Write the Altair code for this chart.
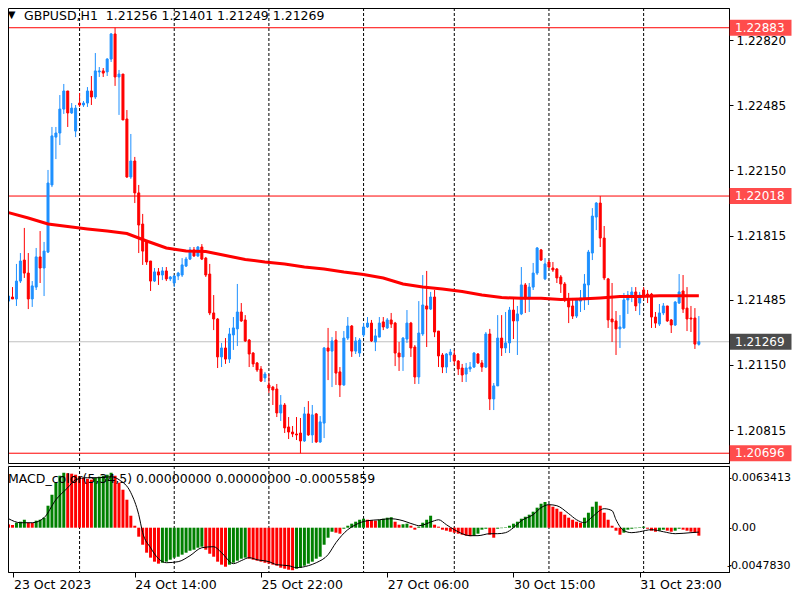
import altair as alt
import pandas as pd

# ---------------- data (GBPUSD H1) ----------------
OPEN = [
    1.21478, 1.21499, 1.21489, 1.21581, 1.21689, 1.21622, 1.21489, 1.21550, 1.21705, 1.21648,
    1.21730, 1.22075, 1.22321, 1.22342, 1.22465, 1.22558, 1.22445, 1.22352, 1.22496, 1.22486,
    1.22496, 1.22558, 1.22527, 1.22656, 1.22661, 1.22656, 1.22722, 1.22851, 1.22630, 1.22645,
    1.22414, 1.22116, 1.22198, 1.22034, 1.21874, 1.21787, 1.21684, 1.21581, 1.21628, 1.21612,
    1.21633, 1.21592, 1.21571, 1.21607, 1.21612, 1.21658, 1.21694, 1.21741, 1.21710, 1.21756,
    1.21699, 1.21617, 1.21417, 1.21386, 1.21191, 1.21237, 1.21180, 1.21304, 1.21335, 1.21422,
    1.21381, 1.21278, 1.21211, 1.21160, 1.21129, 1.21083, 1.21047, 1.21036, 1.21026, 1.20903,
    1.20944, 1.20831, 1.20805, 1.20795, 1.20800, 1.20759, 1.20898, 1.20790, 1.20898, 1.20754,
    1.20851, 1.21237, 1.21221, 1.21278, 1.21114, 1.21047, 1.21288, 1.21350, 1.21221, 1.21211,
    1.21304, 1.21345, 1.21365, 1.21268, 1.21293, 1.21371, 1.21340, 1.21381, 1.21365, 1.21211,
    1.21191, 1.21283, 1.21365, 1.21242, 1.21088, 1.21309, 1.21453, 1.21437, 1.21499, 1.21324,
    1.21201, 1.21139, 1.21201, 1.21201, 1.21170, 1.21134, 1.21103, 1.21129, 1.21139, 1.21206,
    1.21160, 1.21139, 1.21309, 1.20975, 1.21042, 1.21288, 1.21237, 1.21263, 1.21432, 1.21376,
    1.21412, 1.21561, 1.21489, 1.21550, 1.21622, 1.21741, 1.21592, 1.21679, 1.21648, 1.21643,
    1.21602, 1.21566, 1.21484, 1.21453, 1.21401, 1.21478, 1.21489, 1.21561, 1.21725, 1.21910,
    1.21982, 1.21802, 1.21592, 1.21386, 1.21376, 1.21335, 1.21340, 1.21484, 1.21504, 1.21525,
    1.21468, 1.21535, 1.21514, 1.21514, 1.21396, 1.21360, 1.21417, 1.21453, 1.21381, 1.21355,
    1.21468, 1.21530, 1.21442, 1.21391, 1.21391, 1.21256,
]
HIGH = [
    1.21504, 1.21550, 1.21669, 1.21725, 1.21854, 1.21725, 1.21581, 1.21751, 1.21838, 1.21782,
    1.22152, 1.22373, 1.22373, 1.22537, 1.22594, 1.22558, 1.22496, 1.22486, 1.22548, 1.22506,
    1.22578, 1.22635, 1.22753, 1.22681, 1.22676, 1.22727, 1.22856, 1.22883, 1.22666, 1.22645,
    1.22460, 1.22337, 1.22219, 1.22075, 1.21926, 1.21792, 1.21684, 1.21648, 1.21648, 1.21653,
    1.21653, 1.21607, 1.21612, 1.21628, 1.21699, 1.21705, 1.21756, 1.21756, 1.21761, 1.21771,
    1.21705, 1.21669, 1.21509, 1.21391, 1.21263, 1.21288, 1.21340, 1.21396, 1.21566, 1.21468,
    1.21406, 1.21283, 1.21216, 1.21165, 1.21144, 1.21114, 1.21103, 1.21042, 1.21052, 1.20995,
    1.20954, 1.20882, 1.20836, 1.20882, 1.20877, 1.20934, 1.20964, 1.20944, 1.20903, 1.20887,
    1.21242, 1.21340, 1.21293, 1.21324, 1.21139, 1.21324, 1.21396, 1.21355, 1.21293, 1.21288,
    1.21365, 1.21396, 1.21381, 1.21335, 1.21396, 1.21396, 1.21391, 1.21417, 1.21371, 1.21268,
    1.21293, 1.21432, 1.21371, 1.21252, 1.21478, 1.21612, 1.21633, 1.21525, 1.21535, 1.21324,
    1.21211, 1.21211, 1.21232, 1.21227, 1.21175, 1.21155, 1.21160, 1.21165, 1.21216, 1.21211,
    1.21175, 1.21319, 1.21335, 1.21057, 1.21406, 1.21406, 1.21422, 1.21448, 1.21494, 1.21453,
    1.21653, 1.21571, 1.21571, 1.21674, 1.21756, 1.21746, 1.21699, 1.21689, 1.21679, 1.21648,
    1.21612, 1.21576, 1.21520, 1.21494, 1.21494, 1.21535, 1.21617, 1.21741, 1.21956, 1.21987,
    1.22018, 1.21864, 1.21597, 1.21571, 1.21427, 1.21406, 1.21520, 1.21530, 1.21550, 1.21550,
    1.21525, 1.21550, 1.21535, 1.21520, 1.21422, 1.21463, 1.21468, 1.21453, 1.21386, 1.21478,
    1.21617, 1.21612, 1.21550, 1.21453, 1.21442, 1.21401,
]
LOW = [
    1.21442, 1.21489, 1.21453, 1.21571, 1.21597, 1.21437, 1.21448, 1.21535, 1.21571, 1.21504,
    1.21725, 1.22064, 1.22208, 1.22280, 1.22440, 1.22373, 1.22440, 1.22321, 1.22476, 1.22476,
    1.22476, 1.22486, 1.22517, 1.22630, 1.22630, 1.22635, 1.22707, 1.22584, 1.22435, 1.22409,
    1.22111, 1.22106, 1.21982, 1.21725, 1.21664, 1.21664, 1.21530, 1.21576, 1.21561, 1.21586,
    1.21581, 1.21581, 1.21550, 1.21586, 1.21602, 1.21653, 1.21689, 1.21705, 1.21705, 1.21689,
    1.21602, 1.21406, 1.21329, 1.21134, 1.21139, 1.21155, 1.21160, 1.21227, 1.21247, 1.21371,
    1.21268, 1.21139, 1.21139, 1.21114, 1.21062, 1.21062, 1.21006, 1.20944, 1.20882, 1.20862,
    1.20800, 1.20769, 1.20779, 1.20764, 1.20696, 1.20754, 1.20785, 1.20749, 1.20749, 1.20749,
    1.20774, 1.21072, 1.21036, 1.21047, 1.20985, 1.21042, 1.21278, 1.21191, 1.21206, 1.21191,
    1.21293, 1.21340, 1.21268, 1.21221, 1.21293, 1.21329, 1.21335, 1.21340, 1.21144, 1.21119,
    1.21119, 1.21263, 1.21191, 1.21052, 1.21052, 1.21299, 1.21242, 1.21432, 1.21293, 1.21139,
    1.21108, 1.21108, 1.21165, 1.21149, 1.21098, 1.21062, 1.21062, 1.21114, 1.21134, 1.21155,
    1.21114, 1.21134, 1.20918, 1.20918, 1.21042, 1.21196, 1.21211, 1.21211, 1.21283, 1.21201,
    1.21406, 1.21417, 1.21422, 1.21535, 1.21612, 1.21684, 1.21586, 1.21648, 1.21628, 1.21571,
    1.21520, 1.21473, 1.21365, 1.21386, 1.21391, 1.21422, 1.21432, 1.21458, 1.21689, 1.21843,
    1.21756, 1.21586, 1.21340, 1.21268, 1.21201, 1.21237, 1.21335, 1.21412, 1.21473, 1.21427,
    1.21406, 1.21484, 1.21468, 1.21340, 1.21340, 1.21350, 1.21406, 1.21371, 1.21314, 1.21350,
    1.21463, 1.21417, 1.21324, 1.21319, 1.21232, 1.21249,
]
CLOSE = [
    1.21504, 1.21489, 1.21581, 1.21684, 1.21622, 1.21489, 1.21556, 1.21705, 1.21648, 1.21735,
    1.22085, 1.22327, 1.22342, 1.22465, 1.22558, 1.22445, 1.22470, 1.22470, 1.22486, 1.22496,
    1.22558, 1.22527, 1.22661, 1.22661, 1.22650, 1.22722, 1.22851, 1.22630, 1.22645, 1.22409,
    1.22116, 1.22198, 1.22034, 1.21869, 1.21735, 1.21679, 1.21581, 1.21628, 1.21612, 1.21633,
    1.21592, 1.21602, 1.21607, 1.21622, 1.21664, 1.21694, 1.21741, 1.21710, 1.21756, 1.21694,
    1.21612, 1.21417, 1.21386, 1.21191, 1.21237, 1.21180, 1.21309, 1.21340, 1.21422, 1.21376,
    1.21273, 1.21206, 1.21155, 1.21124, 1.21067, 1.21103, 1.21031, 1.21021, 1.20903, 1.20944,
    1.20826, 1.20805, 1.20795, 1.20790, 1.20759, 1.20898, 1.20790, 1.20893, 1.20754, 1.20857,
    1.21237, 1.21221, 1.21273, 1.21108, 1.21047, 1.21288, 1.21350, 1.21221, 1.21273, 1.21278,
    1.21345, 1.21365, 1.21273, 1.21299, 1.21365, 1.21345, 1.21381, 1.21360, 1.21211, 1.21191,
    1.21288, 1.21365, 1.21237, 1.21088, 1.21314, 1.21458, 1.21437, 1.21499, 1.21319, 1.21196,
    1.21139, 1.21206, 1.21216, 1.21170, 1.21129, 1.21098, 1.21134, 1.21139, 1.21211, 1.21160,
    1.21139, 1.21309, 1.20975, 1.21042, 1.21288, 1.21237, 1.21263, 1.21432, 1.21376, 1.21412,
    1.21561, 1.21489, 1.21550, 1.21622, 1.21751, 1.21689, 1.21669, 1.21653, 1.21638, 1.21597,
    1.21566, 1.21484, 1.21448, 1.21401, 1.21484, 1.21494, 1.21566, 1.21730, 1.21915, 1.21982,
    1.21802, 1.21597, 1.21381, 1.21371, 1.21335, 1.21345, 1.21484, 1.21509, 1.21525, 1.21453,
    1.21509, 1.21509, 1.21509, 1.21396, 1.21365, 1.21417, 1.21453, 1.21376, 1.21355, 1.21473,
    1.21525, 1.21437, 1.21386, 1.21386, 1.21257, 1.21269,
]

# moving average (red line), read every 5 bars
MA_BARS = [0, 5, 10, 15, 20, 25, 30, 35, 40, 45, 50, 55, 60, 65, 70, 75, 80, 85,
           90, 95, 100, 105, 110, 115, 120, 125, 130, 135, 140, 145, 150, 155, 160, 165, 170, 175]
MA_VALUES = [1.21933, 1.21905, 1.21874, 1.21861, 1.21849, 1.21838, 1.21825, 1.21787, 1.21751,
             1.21735, 1.21733, 1.21712, 1.21692, 1.21679, 1.21669, 1.21653, 1.21643, 1.21627,
             1.21615, 1.21597, 1.21566, 1.21550, 1.21540, 1.21527, 1.21509, 1.21496, 1.21492,
             1.21492, 1.21486, 1.21489, 1.21494, 1.21501, 1.21502, 1.21506, 1.21506, 1.21506]

# MACD_color(5,34,5) histogram, one value per bar
MACD_HIST = [
    0.00042, 0.00034, 0.00063, 0.00076, 0.00101, 0.00063, 0.00060, 0.00089, 0.00101, 0.00127,
    0.00279, 0.00418, 0.00571, 0.00659, 0.00697, 0.00690, 0.00685, 0.00672, 0.00647, 0.00634,
    0.00621, 0.00609, 0.00634, 0.00647, 0.00659, 0.00672, 0.00697, 0.00659, 0.00571, 0.00482,
    0.00355, 0.00152, 0.00025, -0.00114, -0.00216, -0.00317, -0.00380, -0.00431, -0.00456, -0.00444,
    -0.00431, -0.00406, -0.00380, -0.00368, -0.00342, -0.00317, -0.00292, -0.00279, -0.00254, -0.00241,
    -0.00279, -0.00330, -0.00368, -0.00431, -0.00469, -0.00495, -0.00469, -0.00444, -0.00418, -0.00393,
    -0.00380, -0.00393, -0.00406, -0.00418, -0.00431, -0.00444, -0.00456, -0.00469, -0.00482, -0.00507,
    -0.00520, -0.00533, -0.00539, -0.00520, -0.00507, -0.00482, -0.00456, -0.00431, -0.00393, -0.00368,
    -0.00216, -0.00127, -0.00051, -0.00063, -0.00076, -0.00013, 0.00025, 0.00051, 0.00076, 0.00101,
    0.00114, 0.00101, 0.00095, 0.00089, 0.00101, 0.00114, 0.00127, 0.00133, 0.00076, 0.00038,
    0.00044, 0.00051, 0.00025, -0.00025, 0.00013, 0.00063, 0.00101, 0.00152, 0.00038, 0.00013,
    -0.00025, -0.00038, -0.00051, -0.00063, -0.00076, -0.00089, -0.00101, -0.00108, -0.00101, -0.00076,
    -0.00025, -0.00013, -0.00089, -0.00127, -0.00013, -0.00006, 0.00006, 0.00025, 0.00051, 0.00076,
    0.00114, 0.00139, 0.00165, 0.00203, 0.00254, 0.00304, 0.00326, 0.00292, 0.00266, 0.00241,
    0.00203, 0.00165, 0.00127, 0.00101, 0.00076, 0.00063, 0.00127, 0.00190, 0.00266, 0.00330,
    0.00279, 0.00190, 0.00101, 0.00025, -0.00038, -0.00089, -0.00063, -0.00025, -0.00013, -0.00006,
    0.00006, 0.00013, -0.00013, -0.00038, -0.00051, -0.00038, -0.00025, -0.00038, -0.00051, -0.00038,
    -0.00013, -0.00025, -0.00038, -0.00051, -0.00063, -0.00101,
]

# MACD signal line (black), read at these bars
SIGNAL_BARS = [0, 3, 6, 9, 12, 15, 17, 20, 23, 26, 28, 31, 33, 34, 36, 38, 40, 43, 46, 49,
               52, 54, 57, 59, 61, 63, 66, 68, 71, 73, 76, 78, 81, 83, 86, 88, 91, 94, 97, 99,
               103, 104, 108, 109, 111, 113, 117, 119, 122, 124, 126, 128, 130, 133, 135, 137,
               139, 142, 144, 146, 148, 151, 153, 154, 156, 158, 160, 163, 166, 169, 173, 175]
SIGNAL_VALUES = [0.00114, 0.00063, 0.00063, 0.00127, 0.00355, 0.00507, 0.00609, 0.00634, 0.00634,
                 0.00647, 0.00609, 0.00444, 0.00165, -0.00063, -0.00254, -0.00393, -0.00444,
                 -0.00431, -0.00355, -0.00254, -0.00241, -0.00317, -0.00456, -0.00418, -0.00380,
                 -0.00406, -0.00431, -0.00469, -0.00482, -0.00507, -0.00482, -0.00444, -0.00342,
                 -0.00190, -0.00025, 0.00038, 0.00089, 0.00101, 0.00114, 0.00101, 0.00038, 0.00025,
                 0.00089, 0.00101, 0.00038, -0.00025, -0.00101, -0.00101, -0.00076, -0.00076,
                 -0.00063, 0.00000, 0.00089, 0.00165, 0.00254, 0.00292, 0.00279, 0.00178, 0.00101,
                 0.00063, 0.00139, 0.00241, 0.00216, 0.00101, -0.00038, -0.00063, -0.00051,
                 -0.00025, -0.00051, -0.00076, -0.00063, -0.00055859]

DAY_START_BARS = [18, 42, 66, 90, 113, 137, 161]
TIME_TICK_BARS = [0, 32, 64, 96, 128, 160]
TIME_TICK_LABELS = ["23 Oct 2023", "24 Oct 14:00", "25 Oct 22:00",
                    "27 Oct 06:00", "30 Oct 15:00", "31 Oct 23:00"]
PRICE_TICKS = [1.22820, 1.22485, 1.22150, 1.21815, 1.21485, 1.21150, 1.20815]
LEVEL_PRICES = [1.22883, 1.22018, 1.20696]
LAST_PRICE = 1.21269
MACD_TICKS = [0.0063413, 0.0, -0.0047830]
MACD_TICK_LABELS = ["0.0063413", "0.00", "-0.0047830"]
HEADER = "GBPUSD,H1\u00a0 1.21256 1.21401 1.21249 1.21269"
MACD_TITLE = "MACD_color(5,34,5) 0.00000000 0.00000000 -0.00055859"

# ---------------- layout ----------------
FONT = "DejaVu Sans"
W, H = 721, 564              # plot area (both panels); the page adds an 8px margin
TOTAL_W, TOTAL_H = 784, 584  # whole chart kept inside the 800x600 page
BAR_PX = 4
X_START = 1.125
X_DOMAIN = [X_START, X_START + W / BAR_PX]
PRICE_DOMAIN = [1.206458, 1.229845]
PRICE_RANGE = [455, 0]
MACD_DOMAIN = [-0.005619, 0.007826]
MACD_RANGE = [564, 458]
BULL, BEAR = "#1E90FF", "#FF0000"
UP_G, DOWN_R = "#008000", "#FF0000"

N = len(CLOSE)
candles = pd.DataFrame({"bar": list(range(N)), "open": OPEN, "high": HIGH,
                        "low": LOW, "close": CLOSE})
ma_df = pd.DataFrame({"bar": MA_BARS, "ma": MA_VALUES})
macd_df = pd.DataFrame({"bar": list(range(N)), "hist": MACD_HIST})
macd_df["rise"] = macd_df["hist"].diff().fillna(-1) > 0
macd_df["zero"] = 0.0
sig_df = pd.DataFrame({"bar": SIGNAL_BARS, "signal": SIGNAL_VALUES})
days_df = pd.DataFrame({"bar": DAY_START_BARS})
levels_df = pd.DataFrame({
    "price": LEVEL_PRICES + [LAST_PRICE],
    "line": ["#FF0000"] * len(LEVEL_PRICES) + ["#C0C0C0"],
    "box": ["#FF0000"] * len(LEVEL_PRICES) + ["#000000"],
})
levels_df["label"] = levels_df["price"].map(lambda p: f"{p:.5f}")
one = pd.DataFrame({"k": [0]})

# x axis: first label sits at the left edge of the visible area
tick_vals = [max(b, X_START + 0.125) for b in TIME_TICK_BARS]
x_expr = "".join(f"datum.value == {v} ? '{l}' : " for v, l in zip(tick_vals, TIME_TICK_LABELS)) + "''"
m_expr = "".join(f"datum.value == {v} ? '{l}' : " for v, l in zip(MACD_TICKS, MACD_TICK_LABELS)) + "''"

xscale = alt.Scale(domain=X_DOMAIN, range=[0, W], nice=False, zero=False)
xaxis = alt.Axis(values=tick_vals, labelExpr=x_expr, orient="bottom", title=None, grid=False,
                 tickSize=5, tickColor="black", domainColor="black", labelColor="black",
                 labelFont=FONT, labelFontSize=12.5, labelAlign="left", labelPadding=1,
                 labelOverlap=False, labelFlush=False, labelBound=False)
pscale = alt.Scale(domain=PRICE_DOMAIN, range=PRICE_RANGE, nice=False, zero=False)
paxis = alt.Axis(values=PRICE_TICKS, format=".5f", orient="right", title=None, grid=False,
                 tickSize=4, tickColor="black", domainColor="black", labelColor="black",
                 labelFont=FONT, labelFontSize=12, labelPadding=3, labelOverlap=False,
                 labelBound=False, labelFlush=False)
mscale = alt.Scale(domain=MACD_DOMAIN, range=MACD_RANGE, nice=False, zero=False)
maxis = alt.Axis(values=MACD_TICKS, labelExpr=m_expr, orient="right", title=None, grid=False,
                 tickSize=2, tickColor="black", domainColor="black", labelColor="black",
                 labelFont=FONT, labelFontSize=11, labelOverlap=False,
                 labelBound=False, labelFlush=False,
                 labelAlign={"condition": {"test": "datum.value < 0", "value": "right"},
                             "value": "left"},
                 labelPadding={"condition": {"test": "datum.value < 0", "value": 59},
                               "value": 0})


def X(field="bar"):
    return alt.X(f"{field}:Q", scale=xscale, axis=xaxis)


def PY(field):
    return alt.Y(f"{field}:Q", scale=pscale, axis=paxis)


def MY(field):
    return alt.Y(f"{field}:Q", scale=mscale, axis=maxis)


# ---------------- price panel ----------------
day_lines_top = alt.Chart(days_df).mark_rule(color="black", strokeWidth=1, strokeDash=[3, 2]).encode(
    x=X(), y=alt.value(0), y2=alt.value(455))
level_lines = alt.Chart(levels_df).mark_rule(strokeWidth=1).encode(
    y=PY("price"), color=alt.Color("line:N", scale=None))
wicks = alt.Chart(candles).mark_rule(strokeWidth=1, clip=True).encode(
    x=X(), y=PY("low"), y2="high:Q",
    color=alt.condition("datum.close >= datum.open", alt.value(BULL), alt.value(BEAR)))
bodies = alt.Chart(candles).mark_bar(size=2, strokeWidth=1, clip=True).encode(
    x=X(), y=PY("open"), y2="close:Q",
    fill=alt.condition("datum.close >= datum.open", alt.value(BULL), alt.value(BEAR)),
    stroke=alt.condition("datum.close >= datum.open", alt.value(BULL), alt.value(BEAR)))
ma_line = alt.Chart(ma_df).mark_line(color="#FF0000", strokeWidth=3, clip=True).encode(
    x=X(), y=PY("ma"))
label_boxes = alt.Chart(levels_df).mark_tick(orient="horizontal", size=62, thickness=16).encode(
    x=alt.value(752.5), y=PY("price"), color=alt.Color("box:N", scale=None))
label_texts = alt.Chart(levels_df).mark_text(align="left", baseline="middle", font=FONT,
                                              fontSize=12, color="white").encode(
    x=alt.value(727), y=PY("price"), text="label:N")
price_frame = alt.Chart(one).mark_rect(fillOpacity=0, stroke="black", strokeWidth=1).encode(
    x=alt.value(0.5), x2=alt.value(721.5), y=alt.value(0.5), y2=alt.value(455.5))
header_tri = alt.Chart(one).mark_text(text="▼", font=FONT, fontSize=10, color="black",
                                      align="center", baseline="middle").encode(
    x=alt.value(3.5), y=alt.value(6.5))
header = alt.Chart(one).mark_text(text=HEADER, font=FONT, fontSize=12.5, color="black",
                                  align="left", baseline="middle").encode(
    x=alt.value(16), y=alt.value(8))

price_panel = alt.layer(day_lines_top, level_lines, wicks, bodies, ma_line, price_frame,
                        label_boxes, label_texts, header_tri, header)

# ---------------- MACD panel ----------------
day_lines_bottom = alt.Chart(days_df).mark_rule(color="black", strokeWidth=1, strokeDash=[3, 2]).encode(
    x=X(), y=alt.value(458), y2=alt.value(564))
hist = alt.Chart(macd_df).mark_bar(size=3, clip=True).encode(
    x=X(), y=MY("hist"), y2="zero:Q",
    color=alt.condition("datum.rise", alt.value(UP_G), alt.value(DOWN_R)))
signal_line = alt.Chart(sig_df).mark_line(color="black", strokeWidth=1, interpolate="monotone",
                                          clip=True).encode(x=X(), y=MY("signal"))
macd_frame = alt.Chart(one).mark_rect(fillOpacity=0, stroke="black", strokeWidth=1).encode(
    x=alt.value(0.5), x2=alt.value(721.5), y=alt.value(458.5), y2=alt.value(564.5))
macd_title = alt.Chart(one).mark_text(text=MACD_TITLE, font=FONT, fontSize=12.5, color="black",
                                      align="left", baseline="middle").encode(
    x=alt.value(0), y=alt.value(471))

macd_panel = alt.layer(day_lines_bottom, hist, signal_line, macd_frame, macd_title)

chart = alt.layer(price_panel, macd_panel).resolve_scale(y="independent").properties(
    width=W, height=H,
    autosize=alt.AutoSizeParams(type="none"),
    padding={"left": 0, "top": 0, "right": TOTAL_W - W, "bottom": TOTAL_H - H},
).configure_view(stroke=None).configure(background="white")

chart.save("out.html", embed_options={"renderer": "svg", "actions": False})
